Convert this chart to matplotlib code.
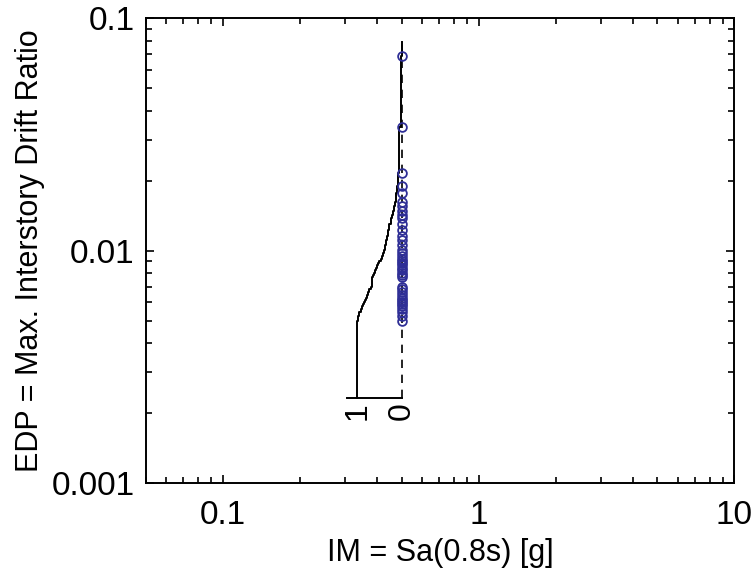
import numpy as np
import matplotlib
matplotlib.use("Agg")
import matplotlib.pyplot as plt
import matplotlib.ticker as ticker

plt.rcParams['font.family'] = ['Liberation Sans', 'DejaVu Sans']

# IM level of the stripe and the peak interstory drift of each record
im_level = 0.5
edp = [0.0689, 0.0342, 0.02167, 0.01905, 0.01772, 0.01626, 0.01559, 0.01483,
       0.01426, 0.01384, 0.01304, 0.01229, 0.01158, 0.01113, 0.01059, 0.01008,
       0.00978, 0.00950, 0.00922, 0.00904, 0.00886, 0.00869, 0.00843, 0.00827,
       0.00803, 0.00785, 0.00772, 0.00699, 0.00685, 0.00665, 0.00646, 0.00627,
       0.00614, 0.00602, 0.00590, 0.00579, 0.00562, 0.00545, 0.00524, 0.00499]
cdf_base = 0.00233
cdf_top = 0.0793
cdf_ticks = [1, 0]

xlim = (0.05, 10)
ylim = (0.001, 0.1)
xticks = [0.1, 1, 10]
xticklabels = ["0.1", "1", "10"]
yticks = [0.001, 0.01, 0.1]
yticklabels = ["0.001", "0.01", "0.1"]

fig = plt.figure(figsize=(7.56, 5.78), dpi=100)
ax = fig.add_axes([0.1931, 0.1638, 0.7782, 0.8045])
ax.set_xscale("log")
ax.set_yscale("log")
ax.set_xlim(*xlim)
ax.set_ylim(*ylim)

# width of the sideways distribution (probability 1) in decades of IM
w = 0.1738

def px(p):
    return im_level * 10 ** (-w * np.asarray(p))

# complementary CDF drawn sideways
e = np.sort(edp)
n = len(e)
ys = [cdf_base]
ps = [1.0]
for i, v in enumerate(e):
    ys += [v, v]
    ps += [1 - i / n, 1 - (i + 1) / n]
ys.append(cdf_top)
ps.append(0.0)
ax.plot(px(ps), ys, color="black", lw=1.4)

# base axis of the distribution
ax.plot(px([1.22, 0]), [cdf_base, cdf_base], color="black", lw=1.4)
ax.plot([im_level, im_level], [cdf_base, cdf_top], color="black", lw=1.2,
        dashes=(5, 4))
for t in cdf_ticks:
    ax.annotate(str(t), xy=(px(t), cdf_base), xytext=(0, -3),
                textcoords="offset points", rotation=90, ha="center",
                va="top", fontsize=23)

ax.plot([im_level] * n, edp, "o", mfc="none", mec="#2f2f96", ms=6.3, mew=1.3)

ax.xaxis.set_major_locator(ticker.FixedLocator(xticks))
ax.xaxis.set_major_formatter(ticker.FixedFormatter(xticklabels))
ax.yaxis.set_major_locator(ticker.FixedLocator(yticks))
ax.yaxis.set_major_formatter(ticker.FixedFormatter(yticklabels))
ax.xaxis.set_minor_locator(ticker.LogLocator(subs=np.arange(2, 10)))
ax.yaxis.set_minor_locator(ticker.LogLocator(subs=np.arange(2, 10)))
ax.xaxis.set_minor_formatter(ticker.NullFormatter())
ax.yaxis.set_minor_formatter(ticker.NullFormatter())
ax.tick_params(which="both", direction="in", top=True, right=True,
               labelsize=24, width=1.2)
ax.tick_params(which="major", length=6)
ax.tick_params(axis="x", which="major", pad=12)
ax.tick_params(axis="y", which="major", pad=8)
ax.tick_params(which="minor", length=4)
for s in ax.spines.values():
    s.set_linewidth(1.4)

ax.set_xlabel("IM = Sa(0.8s) [g]", fontsize=22, va="center")
ax.set_ylabel("EDP = Max. Interstory Drift Ratio", fontsize=22, va="center")
ax.xaxis.set_label_coords(0.5, -0.150)
ax.yaxis.set_label_coords(-0.197, 0.5)

fig.savefig("out.png", dpi=100)
